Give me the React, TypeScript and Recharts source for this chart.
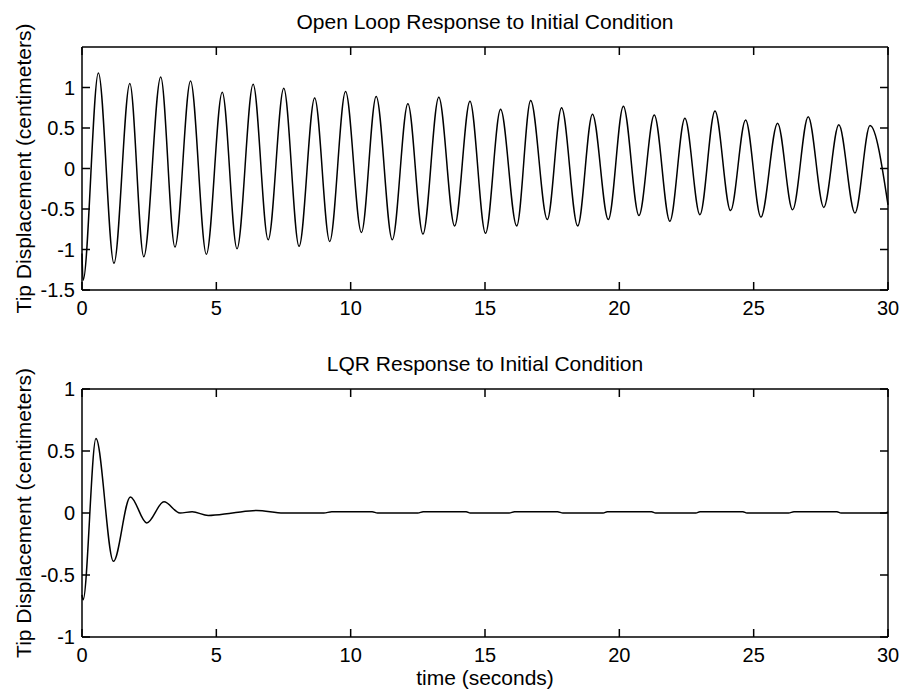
import { LineChart, Line, XAxis, YAxis, Label } from "recharts";

// open loop: peaks and troughs
const openTime = [
  0, 0.04, 0.61, 1.19, 1.78, 2.3, 2.93, 3.46, 4.04, 4.63, 5.22, 5.77, 6.37, 6.93,
  7.51, 8.08, 8.66, 9.22, 9.81, 10.4, 10.95, 11.55, 12.13, 12.69, 13.28, 13.87,
  14.44, 15.02, 15.58, 16.18, 16.7, 17.32, 17.85, 18.45, 19.0, 19.59, 20.15,
  20.73, 21.3, 21.88, 22.44, 23.0, 23.56, 24.14, 24.7, 25.27, 25.89, 26.45,
  27.03, 27.61, 28.17, 28.77, 29.33, 30,
];
const openDisp = [
  -1.05, -1.38, 1.18, -1.17, 1.05, -1.09, 1.13, -0.97, 1.08, -1.06, 0.94, -0.99,
  1.04, -0.88, 0.99, -0.96, 0.87, -0.9, 0.95, -0.79, 0.89, -0.88, 0.8, -0.81,
  0.88, -0.71, 0.83, -0.8, 0.73, -0.71, 0.84, -0.63, 0.75, -0.71, 0.67, -0.63,
  0.77, -0.58, 0.66, -0.65, 0.62, -0.57, 0.71, -0.52, 0.6, -0.6, 0.56, -0.51,
  0.64, -0.48, 0.54, -0.55, 0.53, -0.45,
];

// LQR: decaying response, then small steps around zero
const lqrTime = [
  0, 0.04, 0.52, 1.17, 1.8, 2.41, 3.05, 3.65, 4.1, 4.7, 5.6, 6.5, 7.5, 9.0, 9.3,
  10.8, 11.0, 12.5, 12.7, 14.3, 14.45, 15.9, 16.1, 17.7, 17.9, 19.4, 19.55, 21.2,
  21.35, 22.85, 23.0, 24.6, 24.75, 26.3, 26.5, 28.1, 28.25, 29.9, 30,
];
const lqrDisp = [
  -0.66, -0.7, 0.6, -0.39, 0.13, -0.08, 0.09, 0.0, 0.01, -0.02, 0.0, 0.02, 0.0,
  0.0, 0.01, 0.01, 0.0, 0.0, 0.01, 0.01, 0.0, 0.0, 0.01, 0.01, 0.0, 0.0, 0.01,
  0.01, 0.0, 0.0, 0.01, 0.01, 0.0, 0.0, 0.01, 0.01, 0.0, 0.0, 0.01,
];

const timeTicks = [0, 5, 10, 15, 20, 25, 30];
const openTicks = [-1.5, -1, -0.5, 0, 0.5, 1];
const lqrTicks = [-1, -0.5, 0, 0.5, 1];

const FONT = "'Liberation Sans', Arial, Helvetica, sans-serif";
const axisLine = { stroke: "#000", strokeWidth: 1.5 };

// plot box inside each chart
const LEFT = 82;
const RIGHT = 888;
const TICK = 8;

type PanelProps = {
  data: { t: number; v: number }[];
  title: string;
  yDomain: [number, number];
  yTicks: number[];
  height: number;
  marginTop: number;
  xAxisHeight: number;
  titleY: number;
  xLabel?: string;
  xLabelY?: number;
};

const Panel = ({
  data,
  title,
  yDomain,
  yTicks,
  height,
  marginTop,
  xAxisHeight,
  titleY,
  xLabel,
  xLabelY,
}: PanelProps) => {
  const top = marginTop;
  const bottom = height - xAxisHeight;
  const plotMid = (top + bottom) / 2;

  // inward ticks on both sides, like matlab's boxed axes
  const xTick = (p: any) => (
    <g>
      <line x1={p.x} x2={p.x} y1={bottom} y2={bottom - TICK} stroke="#000" strokeWidth={1.5} />
      <line x1={p.x} x2={p.x} y1={top} y2={top + TICK} stroke="#000" strokeWidth={1.5} />
      <text x={p.x} y={p.y} dy="0.71em" textAnchor="middle" fontSize={20} fontFamily={FONT} fill="#000">
        {p.payload.value}
      </text>
    </g>
  );
  const yTick = (p: any) => (
    <g>
      <line x1={LEFT} x2={LEFT + TICK} y1={p.y} y2={p.y} stroke="#000" strokeWidth={1.5} />
      <line x1={RIGHT} x2={RIGHT - TICK} y1={p.y} y2={p.y} stroke="#000" strokeWidth={1.5} />
      <text x={p.x} y={p.y} dy="0.355em" textAnchor="end" fontSize={20} fontFamily={FONT} fill="#000">
        {p.payload.value}
      </text>
    </g>
  );

  return (
    <LineChart
      width={900}
      height={height}
      data={data}
      margin={{ top: marginTop - 1, right: 900 - RIGHT - 1, bottom: 0, left: 0 }}
    >
      <XAxis
        dataKey="t"
        type="number"
        domain={[0, 30]}
        ticks={timeTicks}
        interval={0}
        height={xAxisHeight}
        tickSize={0}
        tickMargin={11}
        tick={xTick}
        tickLine={false}
        axisLine={axisLine}
      >
        <Label
          content={() => (
            <text x={485} y={titleY} textAnchor="middle" fontSize={21} fontFamily={FONT} fill="#000">
              {title}
            </text>
          )}
        />
        {xLabel && (
          <Label
            content={() => (
              <text x={485} y={xLabelY} textAnchor="middle" fontSize={21} fontFamily={FONT} fill="#000">
                {xLabel}
              </text>
            )}
          />
        )}
      </XAxis>
      <XAxis
        xAxisId="top"
        orientation="top"
        type="number"
        domain={[0, 30]}
        height={1}
        tick={false}
        tickLine={false}
        axisLine={axisLine}
      />
      <YAxis
        type="number"
        domain={yDomain}
        ticks={yTicks}
        interval={0}
        width={LEFT}
        tickSize={0}
        tickMargin={7}
        tick={yTick}
        tickLine={false}
        axisLine={axisLine}
        allowDataOverflow
      >
        <Label
          content={() => (
            <text
              x={31}
              y={plotMid}
              transform={`rotate(-90 31 ${plotMid})`}
              textAnchor="middle"
              fontSize={21}
              fontFamily={FONT}
              fill="#000"
            >
              Tip Displacement (centimeters)
            </text>
          )}
        />
      </YAxis>
      <YAxis
        yAxisId="right"
        orientation="right"
        type="number"
        domain={yDomain}
        width={1}
        tick={false}
        tickLine={false}
        axisLine={axisLine}
        allowDataOverflow
      />
      <Line
        type="monotone"
        dataKey="v"
        stroke="#000"
        strokeWidth={1.5}
        dot={false}
        isAnimationActive={false}
      />
    </LineChart>
  );
};

export default function App() {
  const openData = openTime.map((t, i) => ({ t, v: openDisp[i] }));
  const lqrData = lqrTime.map((t, i) => ({ t, v: lqrDisp[i] }));
  return (
    <div
      style={{
        position: "absolute",
        left: 0,
        top: 0,
        width: 900,
        height: 696,
        background: "#fff",
      }}
    >
      <div style={{ position: "absolute", left: 0, top: 0 }}>
        <Panel
          data={openData}
          title="Open Loop Response to Initial Condition"
          yDomain={[-1.5, 1.5]}
          yTicks={openTicks}
          height={340}
          marginTop={47}
          xAxisHeight={50}
          titleY={29}
        />
      </div>
      <div style={{ position: "absolute", left: 0, top: 340 }}>
        <Panel
          data={lqrData}
          title="LQR Response to Initial Condition"
          yDomain={[-1, 1]}
          yTicks={lqrTicks}
          height={356}
          marginTop={49}
          xAxisHeight={59}
          titleY={31}
          xLabel="time (seconds)"
          xLabelY={345}
        />
      </div>
    </div>
  );
}
